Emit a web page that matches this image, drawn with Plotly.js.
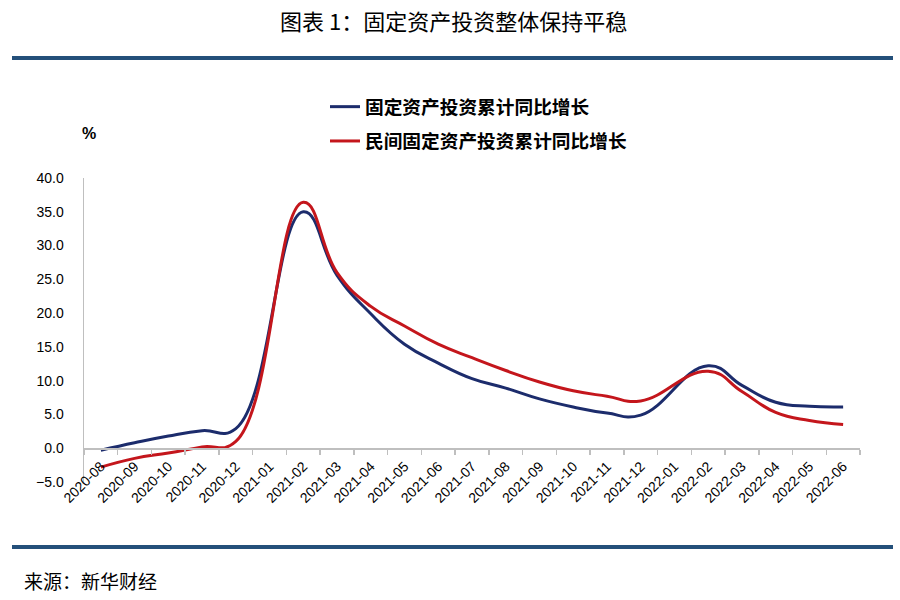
<!DOCTYPE html>
<html>
<head>
<meta charset="utf-8">
<script src="https://cdn.plot.ly/plotly-3.0.1.min.js"></script>
<style>
  html, body { margin: 0; padding: 0; background: #ffffff; }
  #chart { width: 900px; height: 600px; }
</style>
</head>
<body>
<div id="chart"></div>
<script>
// Categories (months)
const months = [
  "2020-08", "2020-09", "2020-10", "2020-11", "2020-12",
  "2021-01", "2021-02", "2021-03", "2021-04", "2021-05", "2021-06",
  "2021-07", "2021-08", "2021-09", "2021-10", "2021-11", "2021-12",
  "2022-01", "2022-02", "2022-03", "2022-04", "2022-05", "2022-06"
];
// 固定资产投资累计同比增长 (%), January has no separate release
const fixedInvest = [
  -0.3, 0.8, 1.8, 2.6, 2.9,
  null, 35.0, 25.6, 19.9, 15.4, 12.6,
  10.3, 8.9, 7.3, 6.1, 5.2, 4.9,
  null, 12.2, 9.3, 6.8, 6.2, 6.1
];
// 民间固定资产投资累计同比增长 (%)
const privateInvest = [
  -2.8, -1.5, -0.7, 0.2, 1.0,
  null, 36.4, 26.0, 21.0, 18.1, 15.4,
  13.4, 11.5, 9.8, 8.5, 7.7, 7.0,
  null, 11.4, 8.4, 5.3, 4.1, 3.5
];
const seriesNames = ["固定资产投资累计同比增长", "民间固定资产投资累计同比增长"];
const yTicks = [-5, 0, 5, 10, 15, 20, 25, 30, 35, 40];

const cjk = '"Noto Sans CJK SC", "Noto Sans", sans-serif';
const latin = '"Liberation Sans", Arial, sans-serif';

const traces = [
  {
    x: months, y: fixedInvest, name: seriesNames[0],
    type: "scatter", mode: "lines", connectgaps: true,
    line: { color: "#1c2c6c", width: 3, shape: "spline", smoothing: 1.3 },
    legendgroup: "a"
  },
  {
    x: months, y: privateInvest, name: seriesNames[1],
    type: "scatter", mode: "lines", connectgaps: true,
    line: { color: "#c4161c", width: 3, shape: "spline", smoothing: 1.3 },
    legendgroup: "b"
  }
];

const L = 84, R = 860, T = 178, B = 482;
const W = R - L, H = B - T;
const px = v => (v - L) / W;
const py = v => (B - v) / H;

const layout = {
  width: 900, height: 600,
  paper_bgcolor: "#ffffff", plot_bgcolor: "#ffffff",
  margin: { l: L, r: 900 - R, t: T, b: 600 - B, pad: 0 },
  font: { family: latin, color: "#000000" },
  title: {
    text: "图表 1：固定资产投资整体保持平稳",
    font: { family: cjk, size: 22, color: "#000000" },
    x: 0.504, xref: "container", xanchor: "center",
    y: 1 - 22 / 600, yref: "container", yanchor: "middle"
  },
  showlegend: true,
  legend: {
    x: px(325), xanchor: "left",
    y: py(88), yanchor: "top",
    font: { family: cjk, size: 18.7, color: "#000000", weight: "bold" },
    tracegroupgap: 7,
    bgcolor: "rgba(0,0,0,0)",
    itemwidth: 30
  },
  xaxis: {
    type: "category",
    range: [-0.5, months.length - 0.5],
    anchor: "free", position: 5 / 45,
    showline: true, linecolor: "#bfbfbf", linewidth: 1.5,
    showgrid: false, zeroline: false,
    ticks: "outside", tickson: "boundaries", ticklen: 5, tickcolor: "#bfbfbf", tickwidth: 1.5,
    tickangle: -45, ticklabelstandoff: 3,
    tickfont: { family: latin, size: 14, color: "#000000" },
    fixedrange: true
  },
  yaxis: {
    range: [-5, 40],
    tickvals: yTicks,
    tickformat: ".1f",
    showline: true, linecolor: "#bfbfbf", linewidth: 1.5,
    showgrid: false, zeroline: false,
    ticks: "", ticklabelstandoff: 16,
    tickfont: { family: latin, size: 14, color: "#000000" },
    fixedrange: true
  },
  shapes: [
    { type: "line", xref: "paper", yref: "paper",
      x0: px(12), x1: px(893), y0: py(58), y1: py(58),
      line: { color: "#24507a", width: 4 } },
    { type: "line", xref: "paper", yref: "paper",
      x0: px(12), x1: px(893), y0: py(547), y1: py(547),
      line: { color: "#24507a", width: 4 } }
  ],
  annotations: [
    { text: "%", xref: "paper", yref: "paper", x: px(89), y: py(133),
      xanchor: "center", yanchor: "middle", showarrow: false,
      font: { family: latin, size: 16, color: "#000000", weight: "bold" } },
    { text: "来源：新华财经", xref: "paper", yref: "paper", x: px(22), y: py(580),
      xanchor: "left", yanchor: "middle", showarrow: false,
      font: { family: cjk, size: 19, color: "#000000" } }
  ]
};

Plotly.newPlot("chart", traces, layout, { displayModeBar: false, staticPlot: true });
</script>
</body>
</html>
